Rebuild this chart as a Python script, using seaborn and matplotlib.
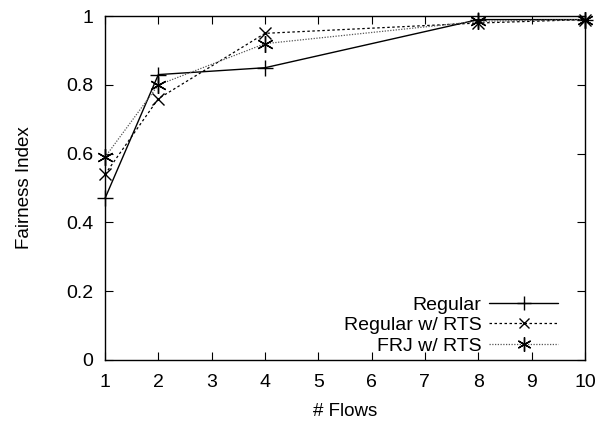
import matplotlib
matplotlib.use("Agg")
import matplotlib.pyplot as plt
import seaborn as sns
import pandas as pd

flows = [1, 2, 4, 8, 10]
regular = [0.47, 0.83, 0.85, 0.99, 0.99]
regular_rts = [0.54, 0.76, 0.95, 0.98, 0.99]
frj_rts = [0.59, 0.80, 0.92, 0.985, 0.99]
series_names = ["Regular", "Regular w/ RTS", "FRJ w/ RTS"]
x_ticks = list(range(1, 11))
y_ticks = [0, 0.2, 0.4, 0.6, 0.8, 1]
y_tick_labels = ["0", "0.2", "0.4", "0.6", "0.8", "1"]

sns.set_style("ticks")
plt.rcParams['font.family'] = ['Liberation Sans', 'DejaVu Sans']
plt.rcParams['font.size'] = 13
plt.rcParams['text.color'] = 'black'
plt.rcParams['axes.labelcolor'] = 'black'

fig = plt.figure(figsize=(5.95, 4.25), dpi=100)
ax = fig.add_axes([0.1765, 0.153, 0.8065, 0.809])

styles = [
    dict(color="black", linestyle="-", marker="+", markersize=12, linewidth=1.0),
    dict(color="black", linestyle=(0, (2, 2)), marker="x", markersize=9, linewidth=0.9),
    dict(color="#555555", linestyle=(0, (1, 1.2)), marker=(6, 2, 0), markersize=12, linewidth=0.9),
]
for name, vals, st in zip(series_names, [regular, regular_rts, frj_rts], styles):
    df = pd.DataFrame({"flows": flows, "fairness": vals})
    sns.lineplot(data=df, x="flows", y="fairness", ax=ax, label=name,
                 markeredgewidth=1.0, markeredgecolor="black", clip_on=False,
                 zorder=3, **st)

ax.set_xlim(1, 10)
ax.set_ylim(0, 1)
ax.set_xticks(x_ticks)
ax.set_yticks(y_ticks)
ax.set_yticklabels(y_tick_labels)
ax.set_xlabel("# Flows", fontsize=13.5, labelpad=9)
ax.set_ylabel("Fairness Index", fontsize=13.5, labelpad=24)
ax.tick_params(direction="in", top=True, right=True, length=6, width=0.8,
               labelsize=14, colors="black")
ax.tick_params(axis="x", pad=10)
ax.tick_params(axis="y", pad=8.5)
for sp in ax.spines.values():
    sp.set_visible(True)
    sp.set_color("black")
    sp.set_linewidth(1.0)

leg = ax.legend(loc="lower right", bbox_to_anchor=(0.945, 0.015), frameon=False,
                markerfirst=False, handlelength=3.55, fontsize=14, borderaxespad=0,
                borderpad=0, labelspacing=0.15, handletextpad=0.4, markerscale=0.85)
fig.savefig("out.png", dpi=100)
